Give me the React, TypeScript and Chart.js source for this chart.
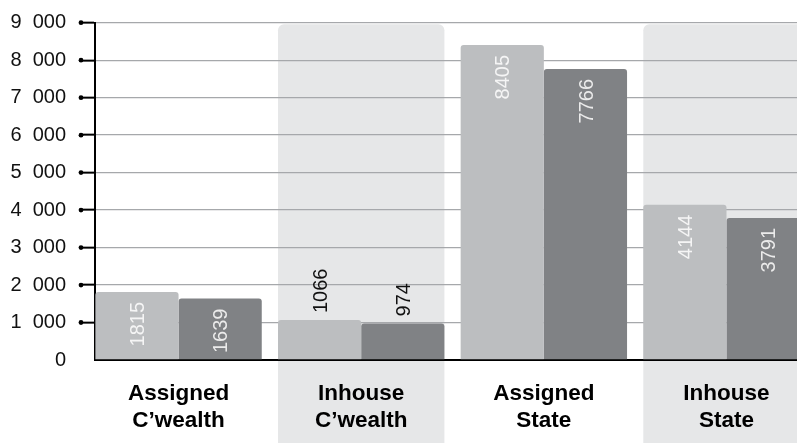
import { useEffect, useRef } from 'react';
import { Chart, registerables } from 'chart.js';

Chart.register(...registerables);

// ---- data ----
const categories: string[][] = [
  ['Assigned', 'C\u2019wealth'],
  ['Inhouse', 'C\u2019wealth'],
  ['Assigned', 'State'],
  ['Inhouse', 'State'],
];
const seriesLight: number[] = [1815, 1066, 8405, 4144];
const seriesDark: number[] = [1639, 974, 7766, 3791];
const shadedCategories: boolean[] = [false, true, false, true];
const yTickValues: number[] = [0, 1000, 2000, 3000, 4000, 5000, 6000, 7000, 8000, 9000];

const FONT = '"Liberation Sans", Arial, Helvetica, sans-serif';
const TICK_LEN = 14;

const formatThousands = (v: number): string => {
  const s = String(Math.round(v));
  return s.replace(/\B(?=(\d{3})+(?!\d))/g, '\u2007');
};

const bandPlugin = {
  id: 'bands',
  beforeDraw(chart: any) {
    const ctx = chart.ctx;
    const m0 = chart.getDatasetMeta(0);
    const m1 = chart.getDatasetMeta(1);
    const yScale = chart.scales.y;
    const yTop = yScale.getPixelForValue(yTickValues[yTickValues.length - 1]) + 1.5;
    ctx.save();
    ctx.fillStyle = '#e6e7e8';
    shadedCategories.forEach((s, i) => {
      if (!s) return;
      const b0 = m0.data[i];
      const b1 = m1.data[i];
      if (!b0 || !b1) return;
      const left = b0.x - b0.width / 2;
      const right = b1.x + b1.width / 2;
      ctx.beginPath();
      ctx.roundRect(left, yTop, right - left, chart.height - yTop, [6, 6, 0, 0]);
      ctx.fill();
    });
    ctx.restore();
  },
};

const valueLabelPlugin = {
  id: 'valueLabels',
  afterDatasetsDraw(chart: any) {
    const ctx = chart.ctx;
    ctx.save();
    ctx.font = `20px ${FONT}`;
    const cap = 14.3;
    chart.data.datasets.forEach((ds: any, di: number) => {
      const meta = chart.getDatasetMeta(di);
      meta.data.forEach((bar: any, i: number) => {
        const v = ds.data[i].y;
        const text = String(v);
        const w = ctx.measureText(text).width;
        const h = bar.base - bar.y;
        ctx.save();
        if (h >= w + 6) {
          ctx.translate(bar.x + cap / 2, bar.y + 10);
          ctx.rotate(-Math.PI / 2);
          ctx.textAlign = 'right';
          ctx.fillStyle = di === 0 ? '#f5f5f5' : '#ebebeb';
        } else {
          ctx.translate(bar.x + cap / 2, bar.y - 7);
          ctx.rotate(-Math.PI / 2);
          ctx.textAlign = 'left';
          ctx.fillStyle = '#111111';
        }
        ctx.textBaseline = 'alphabetic';
        ctx.fillText(text, 0, 0);
        ctx.restore();
      });
    });
    ctx.restore();
  },
};

const tickDotPlugin = {
  id: 'tickDots',
  afterDraw(chart: any) {
    const y = chart.scales.y;
    const ctx = chart.ctx;
    const x = y.right - TICK_LEN;
    ctx.save();
    ctx.fillStyle = '#000';
    y.ticks.forEach((t: any) => {
      if (t.value === 0) return;
      const py = y.getPixelForValue(t.value);
      ctx.beginPath();
      ctx.arc(x, py, 2.4, 0, Math.PI * 2);
      ctx.fill();
    });
    ctx.restore();
  },
};

export default function App() {
  const canvasRef = useRef<HTMLCanvasElement | null>(null);

  useEffect(() => {
    if (!canvasRef.current) return;
    const chart = new Chart(canvasRef.current, {
      type: 'bar',
      data: {
        datasets: [
          {
            label: 'Light',
            data: seriesLight.map((v, i) => ({ x: i, y: v })),
            backgroundColor: '#bcbec0',
            borderRadius: 3,
            borderSkipped: 'start',
          },
          {
            label: 'Dark',
            data: seriesDark.map((v, i) => ({ x: i, y: v })),
            backgroundColor: '#808285',
            borderRadius: 3,
            borderSkipped: 'start',
          },
        ],
      },
      options: {
        animation: false,
        responsive: true,
        maintainAspectRatio: false,
        layout: { padding: { top: 22.7, left: 0, right: 0, bottom: 0 } },
        categoryPercentage: 0.911,
        barPercentage: 1,
        plugins: {
          legend: { display: false },
          tooltip: { enabled: false },
        },
        scales: {
          x: {
            type: 'linear',
            min: -0.4575,
            max: 3.386,
            offset: false,
            grid: { display: false, drawTicks: false, offset: false },
            border: { display: true, color: '#000', width: 2 },
            afterBuildTicks: (s: any) => {
              s.ticks = categories.map((_, i) => ({ value: i }));
            },
            afterFit: (s: any) => {
              s.height = 83;
              s.paddingLeft = 0;
              s.paddingRight = 0;
            },
            ticks: {
              autoSkip: false,
              maxRotation: 0,
              minRotation: 0,
              padding: 20,
              color: '#000000',
              font: { family: FONT, size: 22.5, weight: 'bold', lineHeight: 1.2 },
              callback: (v: any) => categories[Number(v)] ?? '',
            },
          },
          y: {
            min: 0,
            max: 9000,
            afterBuildTicks: (s: any) => {
              s.ticks = yTickValues.map((v) => ({ value: v }));
            },
            afterFit: (s: any) => {
              s.width = 95;
              s.paddingTop = 0;
              s.paddingBottom = 0;
            },
            ticks: {
              padding: 15,
              color: '#111111',
              font: { family: FONT, size: 20 },
              callback: (v: any) => formatThousands(Number(v)),
            },
            grid: {
              color: (c: any) => (c.tick && c.tick.value === 0 ? 'rgba(0,0,0,0)' : '#a6a8ab'),
              lineWidth: 1.3,
              drawTicks: true,
              tickLength: TICK_LEN,
              tickWidth: 2,
              tickColor: (c: any) => (c.tick && c.tick.value === 0 ? 'rgba(0,0,0,0)' : '#000'),
            },
            border: { display: true, color: '#000', width: 2 },
          },
        },
      } as any,
      plugins: [bandPlugin, valueLabelPlugin, tickDotPlugin],
    });
    return () => chart.destroy();
  }, []);

  return (
    <div style={{ position: 'absolute', left: 0, top: 0, width: 797, height: 443, background: '#fff' }}>
      <canvas ref={canvasRef} />
    </div>
  );
}
